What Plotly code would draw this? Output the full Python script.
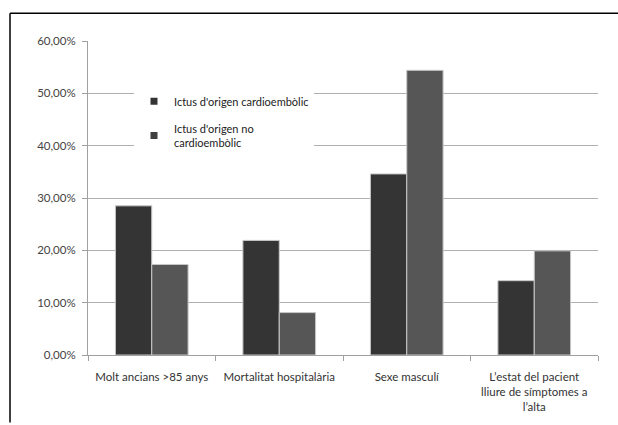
import plotly.graph_objects as go

categories = [
    "Molt ancians >85 anys",
    "Mortalitat hospitalària",
    "Sexe masculí",
    "L’estat del pacient<br>lliure de símptomes a<br>l’alta",
]
series_names = ["Ictus d'origen cardioembòlic", "Ictus d'origen no<br>cardioembòlic"]
cardio = [0.285, 0.219, 0.346, 0.142]
no_cardio = [0.173, 0.081, 0.544, 0.199]
y_ticks = [0, 0.1, 0.2, 0.3, 0.4, 0.5, 0.6]
y_ticklabels = ["0,00%", "10,00%", "20,00%", "30,00%", "40,00%", "50,00%", "60,00%"]

bar_colors = ["#343434", "#565656"]
legend_colors = ["#333333", "#404040"]

fig = go.Figure()
for vals, col in zip([cardio, no_cardio], bar_colors):
    fig.add_trace(go.Bar(
        x=categories, y=vals, marker=dict(color=col, line=dict(color="#c8c8c8", width=1)),
        showlegend=False,
    ))
for i, (name, col) in enumerate(zip(series_names, legend_colors)):
    fig.add_trace(go.Scatter(
        x=[None], y=[None], mode="markers", name=name, legendgroup=f"g{i}",
        marker=dict(symbol="square", size=7, color=col),
    ))

W, H = 618, 425
L, R, T, B = 88, 20, 41, 68
pw, ph = W - L - R, H - T - B

fig.update_layout(
    width=W, height=H,
    margin=dict(l=L, r=R, t=T, b=B),
    paper_bgcolor="white", plot_bgcolor="white",
    font=dict(family="Lato, Open Sans, sans-serif", size=11.5, color="#333333"),
    barmode="group", bargap=0.43, bargroupgap=0,
    showlegend=True,
    legend=dict(
        x=(134 - L) / pw, y=(H - B - 87) / ph, xanchor="left", yanchor="top",
        bgcolor="white", font=dict(size=11, color="#222222"),
        itemwidth=30, tracegroupgap=9, traceorder="grouped",
    ),
    xaxis=dict(
        showline=True, linecolor="#a0a0a0", linewidth=1,
        ticks="outside", tickson="boundaries", ticklen=5, tickcolor="#a0a0a0",
        ticklabelstandoff=11,
        showgrid=False, tickfont=dict(size=11.5, color="#333333"),
    ),
    yaxis=dict(
        range=[0, 0.6], tickvals=y_ticks, ticktext=y_ticklabels,
        showline=True, linecolor="#a0a0a0", linewidth=1,
        ticks="outside", ticklen=5, tickcolor="#a0a0a0", ticklabelstandoff=4,
        showgrid=True, gridcolor="#b0b0b0", gridwidth=1,
        zeroline=False, tickfont=dict(size=11.5, color="#444444"),
    ),
)

# outer frame: only top and left edges are visible in the picture
fig.add_shape(type="line", xref="paper", yref="paper",
              x0=(10 - L) / pw, x1=(W - L) / pw,
              y0=(H - B - 13) / ph, y1=(H - B - 13) / ph,
              line=dict(color="black", width=1.5), layer="above")
fig.add_shape(type="line", xref="paper", yref="paper",
              x0=(10 - L) / pw, x1=(10 - L) / pw,
              y0=(H - B - H) / ph, y1=(H - B - 13) / ph,
              line=dict(color="black", width=1.5), layer="above")

fig.write_html(
    "out.html",
    config={"displayModeBar": False},
    post_script="document.body.style.margin='0';document.body.style.overflow='hidden';",
)
